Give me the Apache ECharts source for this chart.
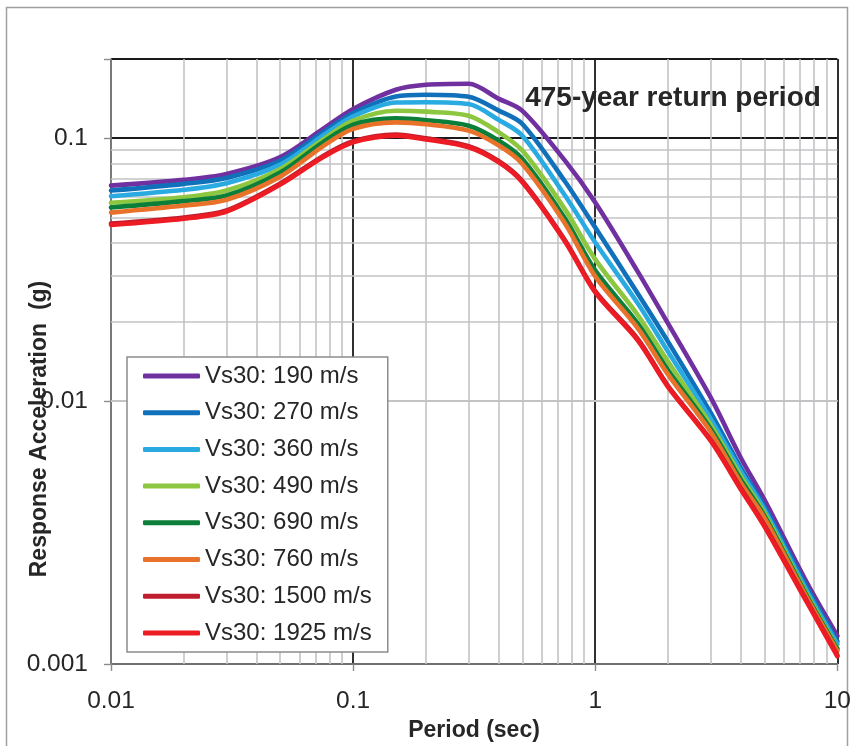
<!DOCTYPE html>
<html lang="en">
<head>
<meta charset="UTF-8">
<title>Response spectra</title>
<script src="https://cdn.jsdelivr.net/npm/echarts@6/dist/echarts.min.js"></script>
<style>
  html, body { margin: 0; padding: 0; background: #fff; }
  #chart { width: 854px; height: 746px; }
</style>
</head>
<body>
<div id="chart"></div>
<script>
// periods (sec) and spectral accelerations (g)
var periods = [0.01, 0.02, 0.03, 0.05, 0.075, 0.1, 0.15, 0.2, 0.3, 0.4, 0.5, 0.75, 1, 1.5, 2, 3, 4, 5, 7.5, 10];
var sa190  = [0.0660, 0.0694, 0.0731, 0.0847, 0.1084, 0.1290, 0.1528, 0.1596, 0.1610, 0.1410, 0.1270, 0.0821, 0.0569, 0.0310, 0.0197, 0.01030, 0.00606, 0.00421, 0.00203, 0.00128];
var sa270  = [0.0632, 0.0670, 0.0706, 0.0821, 0.1052, 0.1246, 0.1441, 0.1463, 0.1437, 0.1272, 0.1132, 0.0684, 0.0457, 0.0256, 0.0168, 0.00901, 0.00556, 0.00397, 0.00195, 0.00122];
var sa360  = [0.0601, 0.0636, 0.0674, 0.0793, 0.1022, 0.1210, 0.1367, 0.1370, 0.1348, 0.1172, 0.1022, 0.0605, 0.0401, 0.0235, 0.0154, 0.00854, 0.00539, 0.00386, 0.00189, 0.00119];
var sa490  = [0.0568, 0.0596, 0.0632, 0.0763, 0.0987, 0.1165, 0.1272, 0.1261, 0.1217, 0.1052, 0.0897, 0.0536, 0.0346, 0.0212, 0.0141, 0.00811, 0.00516, 0.00375, 0.00184, 0.00115];
var sa690  = [0.0545, 0.0576, 0.0605, 0.0740, 0.0964, 0.1125, 0.1189, 0.1170, 0.1115, 0.0978, 0.0834, 0.0495, 0.0314, 0.0197, 0.0131, 0.00783, 0.00501, 0.00366, 0.00181, 0.00114];
var sa760  = [0.0521, 0.0554, 0.0583, 0.0714, 0.0931, 0.1084, 0.1148, 0.1130, 0.1068, 0.0937, 0.0798, 0.0474, 0.0298, 0.0189, 0.0126, 0.00763, 0.00487, 0.00359, 0.00178, 0.00112];
var sa1500 = [0.0473, 0.0499, 0.0531, 0.0672, 0.0854, 0.0973, 0.1032, 0.0998, 0.0932, 0.0817, 0.0687, 0.0409, 0.0262, 0.0172, 0.0114, 0.00712, 0.00465, 0.00337, 0.00173, 0.00108];
var sa1925 = [0.0468, 0.0494, 0.0526, 0.0666, 0.0846, 0.0964, 0.1022, 0.0989, 0.0923, 0.0809, 0.0680, 0.0405, 0.0259, 0.0170, 0.0113, 0.00705, 0.00460, 0.00333, 0.00171, 0.00107];

var seriesNames = ['Vs30: 190 m/s', 'Vs30: 270 m/s', 'Vs30: 360 m/s', 'Vs30: 490 m/s',
                   'Vs30: 690 m/s', 'Vs30: 760 m/s', 'Vs30: 1500 m/s', 'Vs30: 1925 m/s'];
var seriesValues = [sa190, sa270, sa360, sa490, sa690, sa760, sa1500, sa1925];
var seriesColors = ['#7030A0', '#1070BA', '#29ABE2', '#8DC63F', '#0B7F3A', '#E8722A', '#BE1E2D', '#ED1C24'];

var xTickLabels = ['0.01', '0.1', '1', '10'];
var yTickLabels = ['0.001', '0.01', '0.1'];
var minorSteps = [2, 3, 4, 5, 6, 7, 8, 9];
var xDecades = [0.01, 0.1, 1];
var yDecades = [0.001, 0.01];

var FONT = 'Liberation Sans';

// log-axis label: only label whole decades
function decadeLabel(labels, firstExp) {
  return function (v) {
    var e = Math.log10(v);
    var r = Math.round(e);
    if (Math.abs(e - r) > 1e-6) return '';
    return labels[r - firstExp] || '';
  };
}

// minor grid lines (2..9 within each decade)
var minorLines = [];
xDecades.forEach(function (d) {
  minorSteps.forEach(function (m) { minorLines.push({ xAxis: +(d * m).toPrecision(6) }); });
});
yDecades.forEach(function (d) {
  minorSteps.forEach(function (m) { minorLines.push({ yAxis: +(d * m).toPrecision(6) }); });
});

var series = [{
  name: 'grid',
  type: 'line',
  z: 1,
  silent: true,
  symbol: 'none',
  data: [[0.01, 0.001]],
  lineStyle: { width: 0 },
  markLine: {
    z: 1,
    silent: true,
    symbol: ['none', 'none'],
    animation: false,
    label: { show: false },
    lineStyle: { color: '#c3c3c6', width: 1.6, type: 'solid' },
    emphasis: { disabled: true },
    data: minorLines
  }
}];

seriesNames.forEach(function (name, i) {
  series.push({
    name: name,
    type: 'line',
    z: 3,
    smooth: 0.3,
    showSymbol: false,
    symbol: 'none',
    data: periods.map(function (t, k) { return [t, seriesValues[i][k]]; }),
    lineStyle: { color: seriesColors[i], width: 4.6, cap: 'round', join: 'round' },
    itemStyle: { color: seriesColors[i] },
    animation: false
  });
});

var chart = echarts.init(document.getElementById('chart'));
chart.setOption({
  animation: false,
  backgroundColor: '#fff',
  textStyle: { fontFamily: FONT },
  grid: { left: 111, top: 59, right: 16, bottom: 82, containLabel: false },
  xAxis: {
    type: 'log',
    logBase: 10,
    min: 0.01,
    max: 10,
    axisLine: { show: true, lineStyle: { color: '#8c8c8c', width: 1.6 } },
    axisTick: { show: true, length: 7, lineStyle: { color: '#8c8c8c', width: 1.4 } },
    axisLabel: { color: '#262626', fontSize: 24.5, fontFamily: FONT, margin: 25, formatter: decadeLabel(xTickLabels, -2) },
    splitLine: { show: true, lineStyle: { color: '#1a1a1a', width: 1.8 } },
    minorTick: { show: false },
    minorSplitLine: { show: false }
  },
  yAxis: {
    type: 'log',
    logBase: 10,
    min: 0.001,
    max: 0.2,
    axisLine: { show: true, lineStyle: { color: '#8c8c8c', width: 1.6 } },
    axisTick: { show: true, length: 7, lineStyle: { color: '#8c8c8c', width: 1.4 } },
    axisLabel: { color: '#262626', fontSize: 24.5, fontFamily: FONT, margin: 23, formatter: decadeLabel(yTickLabels, -3) },
    splitLine: { show: true, lineStyle: { color: '#1a1a1a', width: 1.8 } },
    minorTick: { show: false },
    minorSplitLine: { show: false }
  },
  legend: {
    z: 10,
    data: seriesNames,
    orient: 'vertical',
    left: 127,
    top: 357,
    padding: [7, 16, 7, 16],
    itemGap: 12.7,
    itemWidth: 57,
    itemHeight: 5,
    icon: 'roundRect',
    backgroundColor: '#fff',
    borderColor: '#8c8c8c',
    borderWidth: 1.5,
    borderRadius: 0,
    selectedMode: false,
    textStyle: { color: '#262626', fontSize: 24, fontFamily: FONT, lineHeight: 24 }
  },
  graphic: [
    {
      type: 'rect',
      z: -10,
      silent: true,
      shape: { x: 6.5, y: 7.5, width: 841, height: 800 },
      style: { fill: null, stroke: '#a0a0a0', lineWidth: 1.5 }
    },
    {
      type: 'text',
      z: 10,
      x: 673,
      y: 98,
      style: {
        text: '475-year return period',
        fill: '#262626',
        font: 'bold 28px "' + FONT + '"',
        textAlign: 'center',
        textVerticalAlign: 'middle'
      }
    },
    {
      type: 'text',
      x: 474,
      y: 731,
      style: {
        text: 'Period (sec)',
        fill: '#262626',
        font: 'bold 23px "' + FONT + '"',
        textAlign: 'center',
        textVerticalAlign: 'middle'
      }
    },
    {
      type: 'text',
      x: 40,
      y: 429,
      rotation: Math.PI / 2,
      style: {
        text: 'Response Acceleration  (g)',
        fill: '#262626',
        font: 'bold 23px "' + FONT + '"',
        textAlign: 'center',
        textVerticalAlign: 'middle'
      }
    }
  ],
  series: series
});
</script>
</body>
</html>
